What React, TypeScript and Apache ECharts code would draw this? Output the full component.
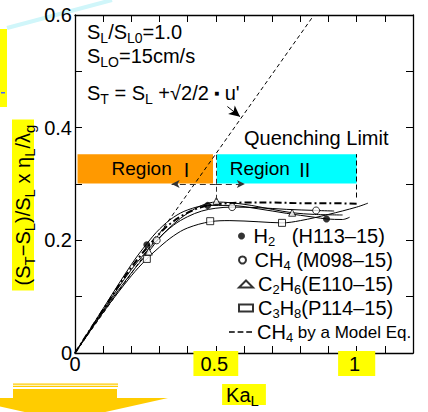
import React, { useEffect, useRef } from 'react';
import * as echarts from 'echarts';

const FONT = '"Liberation Sans", Arial, Helvetica, sans-serif';
const CJK = '"Noto Sans CJK JP", "Noto Sans CJK SC", sans-serif';

// ---- axes ----
const kaMin = 0;
const kaMax = 1.2;
const kaStep = 0.1;
const ratioMin = 0;
const ratioMax = 0.6;
const ratioStep = 0.1;
const kaTickLabels = ['0', '0.5', '1'];
const ratioTickLabels = ['0', '0.2', '0.4', '0.6'];

// ---- measured points (Ka_L, (ST-SL)/SL x etaL/lambda_g) ----
const h2Points = [[0.255, 0.192], [0.471, 0.262], [0.893, 0.238]];
const ch4Points = [[0.29, 0.2], [0.558, 0.259], [0.856, 0.253]];
const c2h6Points = [[0.262, 0.18], [0.502, 0.27], [0.771, 0.249]];
const c3h8Points = [[0.255, 0.167], [0.48, 0.234], [0.735, 0.231]];

// ---- fitted curves ----
const h2Curve = [[0, 0], [0.1, 0.079], [0.2, 0.157], [0.255, 0.194], [0.3, 0.22], [0.35, 0.241], [0.4, 0.254], [0.471, 0.262], [0.55, 0.262], [0.65, 0.256], [0.75, 0.248], [0.85, 0.241], [0.893, 0.238], [0.95, 0.237], [0.975, 0.241]];
const ch4Curve = [[0, 0], [0.1, 0.076], [0.2, 0.148], [0.29, 0.2], [0.35, 0.227], [0.4, 0.242], [0.45, 0.252], [0.5, 0.257], [0.558, 0.259], [0.65, 0.258], [0.75, 0.255], [0.856, 0.253], [0.92, 0.252]];
const c2h6Curve = [[0, 0], [0.1, 0.074], [0.2, 0.142], [0.262, 0.18], [0.3, 0.204], [0.35, 0.229], [0.4, 0.248], [0.45, 0.262], [0.502, 0.268], [0.6, 0.264], [0.7, 0.255], [0.771, 0.249], [0.85, 0.246], [0.95, 0.245]];
const c3h8Curve = [[0, 0], [0.1, 0.072], [0.2, 0.137], [0.255, 0.167], [0.3, 0.188], [0.35, 0.208], [0.4, 0.222], [0.48, 0.233], [0.55, 0.235], [0.65, 0.233], [0.735, 0.231], [0.8, 0.235], [0.9, 0.246], [1.0, 0.259], [1.04, 0.266]];
const modelCurve = [[0, 0], [0.1, 0.077], [0.2, 0.152], [0.3, 0.212], [0.35, 0.234], [0.4, 0.249], [0.45, 0.259], [0.5, 0.264], [0.6, 0.267], [0.7, 0.267], [0.8, 0.266], [0.9, 0.266], [1.0, 0.265]];
const turbulentLine = [[0, 0], [0.8485, 0.6]];

// ---- regions / annotations (data coordinates) ----
const regionI = [[0.009, 0.301], [0.49, 0.353]];
const regionII = [[0.503, 0.301], [1.0, 0.353]];
const regionArrowY = 0.3;
const regionBoundaryKa = 0.5;
const regionLeftArrowKa = 0.343;
const regionRightArrowKa = 0.603;
const quenchLimitKa = 1.0;
const uArrow = [[0.541, 0.4375], [0.586, 0.4196]];

const names = {
  h2: 'H2 (H113–15)',
  ch4: 'CH4 (M098–15)',
  c2h6: 'C2H6(E110–15)',
  c3h8: 'C3H8(P114–15)',
  model: 'CH4 by a Model Eq.',
};

const legendRich: Record<string, string> = {
  [names.h2]: '{n|H}{s|2}{n|   (H113–15)}',
  [names.ch4]: '{n|CH}{s|4}{n| (M098–15)}',
  [names.c2h6]: '{n|C}{s|2}{n|H}{s|6}{n|(E110–15)}',
  [names.c3h8]: '{n|C}{s|3}{n|H}{s|8}{n|(P114–15)}',
  [names.model]: '{n|CH}{s|4}{m| by a Model Eq.}',
};

const rich = {
  n: { fontFamily: FONT, fontSize: 20, lineHeight: 20, color: '#000', fill: '#000' },
  s: { fontFamily: FONT, fontSize: 14, lineHeight: 8, height: 8, verticalAlign: 'bottom', color: '#000', fill: '#000' },
  m: { fontFamily: FONT, fontSize: 17, lineHeight: 20, color: '#000', fill: '#000' },
  d: { fontFamily: '"DejaVu Sans", sans-serif', fontSize: 5, lineHeight: 20, color: '#000', fill: '#000' },
};

const legendTextRich = {
  n: { fontFamily: FONT, fontSize: 20, lineHeight: 22, color: '#000' },
  s: { fontFamily: FONT, fontSize: 13, lineHeight: 12, height: 12, verticalAlign: 'bottom', color: '#000' },
  m: { fontFamily: FONT, fontSize: 17, lineHeight: 22, color: '#000' },
};

const near = (a: number, b: number) => Math.abs(a - b) < 1e-6;

const axisLineStyle = { color: '#000', width: 1.3 };
const tickStyle = { show: true, inside: true, length: 7, lineStyle: { color: '#000', width: 1 } };

const regionLabelRich = {
  r: { fontFamily: FONT, fontSize: 19, color: '#000' },
  v: { fontFamily: CJK, fontSize: 19, color: '#000' },
};

// one legend row per entry
const legendRows = [
  { item: names.h2, left: 238, top: 225, itemWidth: 14 },
  { item: names.ch4, left: 238, top: 249, itemWidth: 14 },
  { item: names.c2h6, left: 238, top: 273, itemWidth: 14 },
  { item: names.c3h8, left: 238, top: 297, itemWidth: 14 },
  { item: { name: names.model, icon: 'path://M0,0h6v1.6h-6z M9,0h6v1.6h-6z M18,0h6v1.6h-6z' }, left: 229, top: 321, itemWidth: 23 },
];

function buildOption() {
  const text = (x: number, y: number, t: string) => ({
    type: 'text',
    x,
    y,
    silent: true,
    style: { text: t, rich, align: 'left', verticalAlign: 'middle', fontFamily: FONT, fontSize: 20, lineHeight: 20, fill: '#000' },
  });

  return {
    animation: false,
    backgroundColor: '#ffffff',
    textStyle: { fontFamily: FONT },
    grid: { left: 75, right: 15, top: 15, bottom: 59, containLabel: false, outerBoundsMode: 'none' },
    legend: legendRows.map((r) => ({
      orient: 'vertical',
      left: r.left,
      top: r.top,
      padding: 0,
      itemWidth: r.itemWidth,
      itemHeight: 7,
      selectedMode: false,
      data: [r.item],
      formatter: (nm: string) => legendRich[nm],
      textStyle: { color: '#000', fontFamily: FONT, fontSize: 20, lineHeight: 22, rich: legendTextRich },
    })),
    xAxis: [
      {
        type: 'value',
        min: kaMin,
        max: kaMax,
        interval: kaStep,
        position: 'bottom',
        axisLine: { show: true, onZero: false, lineStyle: axisLineStyle },
        axisTick: tickStyle,
        splitLine: { show: false },
        axisLabel: {
          margin: 2,
          color: '#000',
          fontFamily: FONT,
          fontSize: 20,
          formatter: (v: number) => {
            if (near(v, 0)) return '{z|' + kaTickLabels[0] + '}';
            if (near(v, 0.5)) return '{a|' + kaTickLabels[1] + '}';
            if (near(v, 1)) return '{b|' + kaTickLabels[2] + '}';
            return '';
          },
          rich: {
            z: { fontFamily: FONT, fontSize: 20, lineHeight: 17, padding: [3, 0, 2, 0], color: '#000' },
            a: { fontFamily: FONT, fontSize: 20, lineHeight: 17, padding: [3, 10, 2, 7], backgroundColor: '#FFFF00', color: '#000' },
            b: { fontFamily: FONT, fontSize: 20, lineHeight: 17, padding: [3, 15, 2, 11], backgroundColor: '#FFFF00', color: '#000' },
          },
        },
        name: '{n|Ka}{s|L}',
        nameLocation: 'middle',
        nameGap: 31,
        nameTextStyle: {
          backgroundColor: '#FFFF00',
          padding: [0, 7, 0, 4],
          rich: {
            n: { fontFamily: FONT, fontSize: 20, lineHeight: 21, color: '#000' },
            s: { fontFamily: FONT, fontSize: 15, lineHeight: 9, height: 9, verticalAlign: 'bottom', color: '#000' },
          },
        },
      },
      {
        type: 'value',
        min: kaMin,
        max: kaMax,
        interval: kaStep,
        position: 'top',
        axisLine: { show: true, onZero: false, lineStyle: axisLineStyle },
        axisTick: tickStyle,
        axisLabel: { show: false },
        splitLine: { show: false },
      },
    ],
    yAxis: [
      {
        type: 'value',
        min: ratioMin,
        max: ratioMax,
        interval: ratioStep,
        position: 'left',
        axisLine: { show: true, onZero: false, lineStyle: axisLineStyle },
        axisTick: tickStyle,
        splitLine: { show: false },
        axisLabel: {
          margin: 3,
          color: '#000',
          fontFamily: FONT,
          fontSize: 20,
          lineHeight: 14,
          formatter: (v: number) => {
            const k = Math.round(v * 10);
            return k % 2 === 0 ? ratioTickLabels[k / 2] : '';
          },
        },
      },
      {
        type: 'value',
        min: ratioMin,
        max: ratioMax,
        interval: ratioStep,
        position: 'right',
        axisLine: { show: true, onZero: false, lineStyle: axisLineStyle },
        axisTick: tickStyle,
        axisLabel: { show: false },
        splitLine: { show: false },
      },
    ],
    series: [
      {
        name: 'annotations',
        type: 'line',
        data: [],
        silent: true,
        markArea: {
          silent: true,
          data: [
            [
              {
                name: '{r|Region }{v|Ⅰ}',
                coord: regionI[0],
                itemStyle: { color: '#FF9900', opacity: 1, borderWidth: 0 },
                label: { show: true, position: 'insideLeft', distance: 34, color: '#000', fontFamily: FONT, fontSize: 19, rich: regionLabelRich },
              },
              { coord: regionI[1] },
            ],
            [
              {
                name: '{r|Region }{v|Ⅱ}',
                coord: regionII[0],
                itemStyle: { color: '#00FFFF', opacity: 1, borderWidth: 0 },
                label: { show: true, position: 'insideLeft', distance: 13, color: '#000', fontFamily: FONT, fontSize: 19, rich: regionLabelRich },
              },
              { coord: regionII[1] },
            ],
          ],
        },
        markLine: {
          silent: true,
          symbol: ['none', 'arrow'],
          symbolSize: [6, 8],
          label: { show: false },
          lineStyle: { color: '#333', width: 1, type: [6, 4] },
          data: [
            [{ coord: [regionBoundaryKa, regionArrowY] }, { coord: [regionLeftArrowKa, regionArrowY] }],
            [{ coord: [regionBoundaryKa, regionArrowY] }, { coord: [regionRightArrowKa, regionArrowY] }],
            [
              { coord: [regionBoundaryKa, 0.272], symbol: 'none', lineStyle: { color: '#333', width: 1, type: [5, 3] } },
              { coord: [regionBoundaryKa, regionI[1][1]], symbol: 'none' },
            ],
            [
              { coord: [quenchLimitKa, 0.276], symbol: 'none', lineStyle: { color: '#000', width: 1, type: [5, 3] } },
              { coord: [quenchLimitKa, regionII[1][1]], symbol: 'none' },
            ],
            [
              { coord: uArrow[0], symbol: 'none', lineStyle: { color: '#000', width: 1, type: 'solid' } },
              { coord: uArrow[1], symbol: 'arrow', symbolSize: [8, 11] },
            ],
          ],
        },
      },
      {
        name: 'turbulent',
        type: 'line',
        data: turbulentLine,
        symbol: 'none',
        silent: true,
        z: 3,
        lineStyle: { color: '#000', width: 1, type: [4, 3] },
      },
      ...[h2Curve, ch4Curve, c2h6Curve, c3h8Curve].map((d, i) => ({
        name: 'fit' + i,
        type: 'line',
        data: d,
        symbol: 'none',
        smooth: 0.35,
        silent: true,
        z: 3,
        lineStyle: { color: '#000', width: 1 },
      })),
      {
        name: names.model,
        type: 'line',
        data: modelCurve,
        symbol: 'none',
        smooth: 0.35,
        silent: true,
        z: 3,
        itemStyle: { color: '#000' },
        lineStyle: { color: '#000', width: 2, type: [7, 3, 2, 3] },
      },
      {
        name: names.h2,
        type: 'scatter',
        data: h2Points,
        symbol: 'circle',
        symbolSize: 7,
        z: 4,
        itemStyle: { color: '#000', borderColor: '#000', borderWidth: 0 },
      },
      {
        name: names.ch4,
        type: 'scatter',
        data: ch4Points,
        symbol: 'circle',
        symbolSize: 7,
        z: 4,
        itemStyle: { color: '#fff', borderColor: '#000', borderWidth: 1 },
      },
      {
        name: names.c2h6,
        type: 'scatter',
        data: c2h6Points,
        symbol: 'triangle',
        symbolSize: 7,
        z: 4,
        itemStyle: { color: '#fff', borderColor: '#000', borderWidth: 1 },
      },
      {
        name: names.c3h8,
        type: 'scatter',
        data: c3h8Points,
        symbol: 'rect',
        symbolSize: 7,
        z: 4,
        itemStyle: { color: '#fff', borderColor: '#000', borderWidth: 1 },
      },
    ],
    graphic: [
      { type: 'rect', silent: true, shape: { x: 0, y: 29, width: 7, height: 78 }, style: { fill: '#FFFF00' } },
      { type: 'rect', silent: true, shape: { x: 1, y: 92, width: 4, height: 1.5 }, style: { fill: '#4466FF' } },
      { type: 'line', silent: true, shape: { x1: 7, y1: 28, x2: 112, y2: 0 }, style: { stroke: '#D0F6FA', lineWidth: 4 } },
      { type: 'rect', silent: true, shape: { x: 13, y: 383.5, width: 105, height: 1.2 }, style: { fill: '#FFCC00' } },
      { type: 'rect', silent: true, shape: { x: 13, y: 385.8, width: 105, height: 1.2 }, style: { fill: '#FFCC00' } },
      {
        type: 'polygon',
        silent: true,
        shape: { points: [[13, 389], [117, 389], [117, 398], [168, 398], [65, 421], [-38, 398], [13, 398]] },
        style: { fill: '#FFCC00' },
      },
      {
        type: 'text',
        x: 23,
        y: 205,
        rotation: Math.PI / 2,
        silent: true,
        style: {
          text: '{n|(S}{s|T}{n|−S}{s|L}{n|)/S}{s|L}{n| x η}{s|L}{n|/λ}{s|g}',
          rich: {
            n: { fontFamily: FONT, fontSize: 20, lineHeight: 22, fill: '#000' },
            s: { fontFamily: FONT, fontSize: 15, lineHeight: 9, height: 9, verticalAlign: 'bottom', fill: '#000' },
          },
          align: 'center',
          verticalAlign: 'middle',
          backgroundColor: '#FFFF00',
          padding: [0, 5],
          fontFamily: FONT,
          fontSize: 20,
          lineHeight: 22,
          fill: '#000',
        },
      },
      text(87, 32, '{n|S}{s|L}{n|/S}{s|L0}{n|=1.0}'),
      text(87, 56, '{n|S}{s|LO}{n|=15cm/s}'),
      text(87, 93, "{n|S}{s|T}{n| = S}{s|L}{n| +√2/2 }{d|■}{n| u'}"),
      text(244, 138, '{n|Quenching Limit}'),
    ],
  };
}

export default function App() {
  const ref = useRef<HTMLDivElement>(null);
  useEffect(() => {
    if (!ref.current) return;
    const chart = echarts.init(ref.current, undefined, { renderer: 'svg' });
    chart.setOption(buildOption() as any);
    return () => chart.dispose();
  }, []);
  return (
    <div
      ref={ref}
      style={{ position: 'absolute', left: 0, top: 0, width: 428, height: 412, background: '#fff' }}
    />
  );
}
